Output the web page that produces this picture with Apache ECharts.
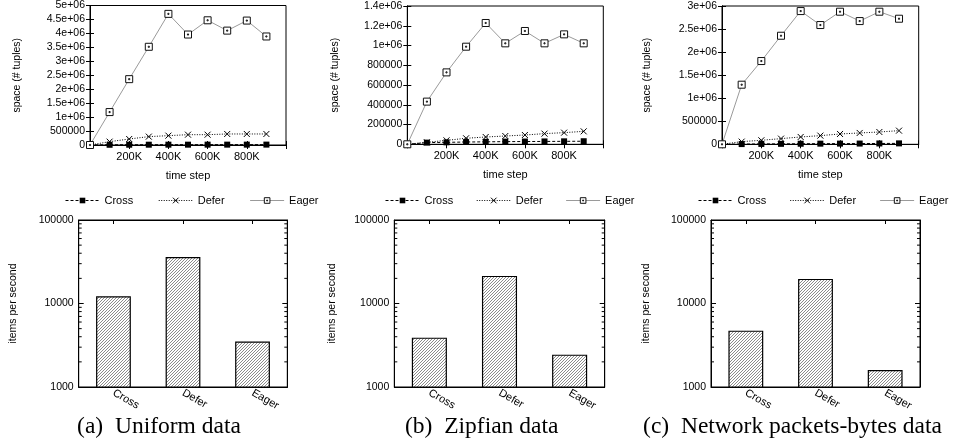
<!DOCTYPE html>
<html><head><meta charset="utf-8">
<script src="https://cdn.jsdelivr.net/npm/echarts@6/dist/echarts.min.js"></script>
<style>html,body{margin:0;padding:0;background:#fff}#c{width:954px;height:448px}</style>
</head><body><div id="c"></div><script>
// ---------- data ----------
const timeSteps = [0, 100000, 200000, 300000, 400000, 500000, 600000, 700000, 800000, 900000];
const seriesNames = ['Cross', 'Defer', 'Eager'];

const uniformCross = [0, 8000, 10000, 11000, 12000, 12000, 13000, 13000, 13000, 14000];
const uniformDefer = [0, 120000, 215000, 300000, 335000, 370000, 370000, 395000, 395000, 395000];
const uniformEager = [0, 1180000, 2360000, 3520000, 4700000, 3960000, 4470000, 4100000, 4460000, 3890000];

const zipfCross = [0, 17000, 20000, 23000, 25000, 27000, 28000, 29000, 30000, 31000];
const zipfDefer = [0, 20000, 40000, 61000, 74000, 84000, 94000, 108000, 118000, 131000];
const zipfEager = [0, 432000, 728000, 988000, 1228000, 1022000, 1147000, 1022000, 1113000, 1022000];

const netCross = [0, 5000, 8000, 10000, 12000, 14000, 15000, 16000, 18000, 20000];
const netDefer = [0, 58000, 87000, 123000, 159000, 188000, 224000, 246000, 267000, 296000];
const netEager = [0, 1293000, 1806000, 2355000, 2890000, 2587000, 2876000, 2673000, 2876000, 2724000];

const methods = ['Cross', 'Defer', 'Eager'];
const uniformThroughput = [12200, 36100, 3500];
const zipfThroughput = [3900, 21400, 2440];
const netThroughput = [4730, 19700, 1600];

const spaceMax = [5000000, 1400000, 3000000];
const spaceInterval = [500000, 200000, 500000];
const timeMax = 1000000;
const timeInterval = 200000;
const throughputMin = 1000;
const throughputMax = 100000;
const minorTickValues = [2000, 3000, 4000, 5000, 6000, 7000, 8000, 9000,
                         20000, 30000, 40000, 50000, 60000, 70000, 80000, 90000];
const captions = ['(a)\u2002Uniform data', '(b)\u2002Zipfian data', '(c)\u2002Network packets-bytes data'];

const spaceData = [
  [uniformCross, uniformDefer, uniformEager],
  [zipfCross, zipfDefer, zipfEager],
  [netCross, netDefer, netEager]
];
const throughputData = [uniformThroughput, zipfThroughput, netThroughput];

// ---------- layout ----------
const topGrids = [
  {left: 90, top: 5.5, width: 196, height: 139.5},
  {left: 407.3, top: 6, width: 196, height: 138.3},
  {left: 722, top: 6, width: 196.7, height: 138.3}
];
const botGrids = [
  {left: 78.7, top: 220, width: 208.6, height: 167},
  {left: 394.3, top: 220, width: 210.4, height: 167},
  {left: 711, top: 220, width: 209, height: 167}
];
const yNameGapTop = [67, 67, 69];
const yNameGapBot = [60, 57, 59];
const legendLeft = [65, 385, 698];
const legendGap = [25, 23, 23.5];
const captionCenter = [154, 476.7, 787.5];

const SANS = 'Liberation Sans';
const black = '#000';

function gfmt(v) {
  if (v === 0) return '0';
  if (v < 1e6) return String(v);
  const m = Math.round(v / 1e5) / 10;
  return m + 'e+06';
}

// diagonal "/" hatch tile
function hatchTile() {
  const c = document.createElement('canvas');
  c.width = 3; c.height = 3;
  const g = c.getContext('2d');
  g.fillStyle = '#ffffff';
  g.fillRect(0, 0, 3, 3);
  g.fillStyle = '#8c8c8c';
  g.fillRect(0, 2, 1, 1);
  g.fillRect(1, 1, 1, 1);
  g.fillRect(2, 0, 1, 1);
  return c;
}
const hatch = hatchTile();

const lineStyles = [
  {symbol: 'rect', symbolSize: 6, itemStyle: {color: '#000', borderColor: '#000', borderWidth: 0},
   lineStyle: {color: '#000', width: 1, type: [3, 2]}},
  {symbol: 'path://M0,0L10,10M10,0L0,10', symbolSize: 6,
   itemStyle: {color: 'rgba(0,0,0,0)', borderColor: '#000', borderWidth: 1},
   lineStyle: {color: '#000', width: 1, type: [1, 1.5]}},
  {symbol: 'path://M0,0L10,0L10,10L0,10Z M4.2,4.2L5.8,4.2L5.8,5.8L4.2,5.8Z', symbolSize: 7,
   itemStyle: {color: '#fff', borderColor: '#111', borderWidth: 1},
   lineStyle: {color: '#9a9a9a', width: 1, type: 'solid'}}
];

const grid = [], xAxis = [], yAxis = [], series = [], legend = [], title = [];

const tickIn = (len) => ({show: true, inside: true, length: len, lineStyle: {color: black, width: 1}});
const axLine = {show: true, lineStyle: {color: black, width: 1}};

for (let i = 0; i < 3; i++) {
  grid.push(Object.assign({show: true, borderColor: black, borderWidth: 1, containLabel: false, outerBoundsMode: 'none'}, topGrids[i]));
  grid.push(Object.assign({show: true, borderColor: black, borderWidth: 1, containLabel: false, outerBoundsMode: 'none'}, botGrids[i]));
  const gTop = 2 * i, gBot = 2 * i + 1;

  xAxis.push({
    type: 'value', gridIndex: gTop, position: 'bottom', min: 0, max: timeMax, interval: timeInterval,
    axisLine: axLine, axisTick: tickIn(4), splitLine: {show: false},
    axisLabel: {color: black, fontFamily: SANS, fontSize: 11, margin: 6,
      formatter: v => (v === 0 || v === timeMax) ? '' : (v / 1000) + 'K'},
    name: 'time step', nameLocation: 'middle', nameGap: 25,
    nameTextStyle: {color: black, fontFamily: SANS, fontSize: 11}
  });
  xAxis.push({
    type: 'value', gridIndex: gTop, position: 'top', min: 0, max: timeMax, interval: timeInterval,
    axisLine: axLine, axisTick: tickIn(4), splitLine: {show: false}, axisLabel: {show: false}
  });
  xAxis.push({
    type: 'category', gridIndex: gBot, position: 'bottom', data: methods,
    axisLine: axLine, axisTick: Object.assign(tickIn(4), {alignWithLabel: true}), splitLine: {show: false},
    axisLabel: {color: black, fontFamily: SANS, fontSize: 11, rotate: -30, margin: 5}
  });
  xAxis.push({
    type: 'category', gridIndex: gBot, position: 'top', data: methods,
    axisLine: axLine, axisTick: Object.assign(tickIn(4), {alignWithLabel: true}), splitLine: {show: false},
    axisLabel: {show: false}
  });

  yAxis.push({
    type: 'value', gridIndex: gTop, position: 'left', min: 0, max: spaceMax[i], interval: spaceInterval[i],
    axisLine: axLine, axisTick: tickIn(4), splitLine: {show: false},
    axisLabel: {color: black, fontFamily: SANS, fontSize: 10.5, margin: 5, formatter: gfmt},
    name: 'space (# tuples)', nameLocation: 'middle', nameGap: yNameGapTop[i],
    nameTextStyle: {color: black, fontFamily: SANS, fontSize: 10.5}
  });
  yAxis.push({
    type: 'value', gridIndex: gTop, position: 'right', min: 0, max: spaceMax[i], interval: spaceInterval[i],
    axisLine: axLine, axisTick: tickIn(4), splitLine: {show: false}, axisLabel: {show: false}
  });
  yAxis.push({
    type: 'log', logBase: 10, gridIndex: gBot, position: 'left', min: throughputMin, max: throughputMax,
    axisLine: axLine, axisTick: tickIn(5), splitLine: {show: false},
    axisLabel: {color: black, fontFamily: SANS, fontSize: 10.5, margin: 5, formatter: v => String(Math.round(v))},
    name: 'items per second', nameLocation: 'middle', nameGap: yNameGapBot[i],
    nameTextStyle: {color: black, fontFamily: SANS, fontSize: 10.5}
  });
  yAxis.push({
    type: 'log', logBase: 10, gridIndex: gBot, position: 'right', min: throughputMin, max: throughputMax,
    axisLine: axLine, axisTick: tickIn(5), splitLine: {show: false}, axisLabel: {show: false}
  });

  const xi = 4 * i, yi = 4 * i;
  for (let s = 0; s < 3; s++) {
    series.push(Object.assign({
      type: 'line', name: seriesNames[s], xAxisIndex: xi, yAxisIndex: yi,
      data: timeSteps.map((t, k) => [t, spaceData[i][s][k]]),
      showSymbol: true, showAllSymbol: true, z: 3 + s, animation: false
    }, JSON.parse(JSON.stringify(lineStyles[s]))));
  }

  series.push({
    type: 'bar', name: 'throughput', xAxisIndex: xi + 2, yAxisIndex: yi + 2,
    data: throughputData[i], barWidth: '50%', animation: false,
    itemStyle: {
      color: {image: hatch, repeat: 'repeat'}, borderColor: '#000', borderWidth: 1.2
    }
  });

  series.push({
    type: 'custom', xAxisIndex: xi + 2, yAxisIndex: yi + 2, silent: true, animation: false,
    data: minorTickValues.map(v => [0, v]),
    encode: {x: 0, y: 1},
    renderItem: (params, api) => {
      const y = api.coord([0, api.value(1)])[1];
      const cs = params.coordSys;
      return {type: 'group', children: [
        {type: 'line', shape: {x1: cs.x, y1: y, x2: cs.x + 3, y2: y}, style: {stroke: '#000', lineWidth: 1}},
        {type: 'line', shape: {x1: cs.x + cs.width - 3, y1: y, x2: cs.x + cs.width, y2: y}, style: {stroke: '#000', lineWidth: 1}}
      ]};
    }
  });

  legend.push({
    left: legendLeft[i], top: 195, padding: 0, orient: 'horizontal', itemWidth: 34, itemHeight: 7,
    itemGap: legendGap[i], selectedMode: false,
    data: seriesNames.map((n, s) => ({
      name: n,
      itemStyle: JSON.parse(JSON.stringify(lineStyles[s].itemStyle)),
      lineStyle: {width: 1, color: lineStyles[s].lineStyle.color, type: lineStyles[s].lineStyle.type}
    })),
    textStyle: {color: black, fontFamily: SANS, fontSize: 11}
  });

  title.push({
    text: captions[i], left: captionCenter[i], top: 410, textAlign: 'center',
    textStyle: {color: black, fontFamily: 'Liberation Serif', fontSize: 23.5, fontWeight: 'normal'}
  });
}

const chart = echarts.init(document.getElementById('c'), null, {renderer: 'canvas'});
chart.setOption({
  animation: false,
  backgroundColor: '#fff',
  title, legend, grid, xAxis, yAxis, series
});
</script></body></html>
